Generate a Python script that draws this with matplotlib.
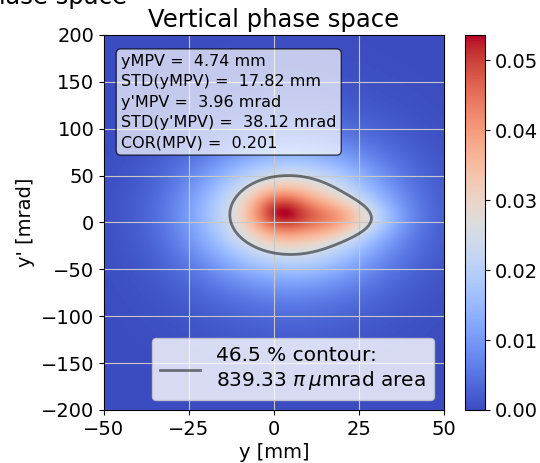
import numpy as np
import matplotlib
matplotlib.use('Agg')
import matplotlib.pyplot as plt
from matplotlib.lines import Line2D

# gaussian components of the fitted beam density
amp = [0.014, 0.028, 0.011, 0.010]
y_c = [1.5, 5.0, 20.0, 5.0]      # mm
yp_c = [11.5, 8.0, 4.0, 5.0]     # mrad
y_sig = [6.0, 18.0, 10.0, 22.0]
yp_sig = [16.0, 40.0, 14.0, 70.0]

stat_names = ["yMPV", "STD(yMPV)", "y'MPV", "STD(y'MPV)", "COR(MPV)"]
stat_vals = [4.74, 17.82, 3.96, 38.12, 0.201]
stat_fmt = [" .2f", " .2f", " .2f", " .2f", " .3f"]
stat_units = [" mm", " mm", " mrad", " mrad", ""]

contour_frac = 0.465
contour_area = 839.33

y = np.linspace(-50, 50, 401)
yp = np.linspace(-200, 200, 801)
Y, YP = np.meshgrid(y, yp)
dens = np.zeros_like(Y)
for a, y0, yp0, sy, syp in zip(amp, y_c, yp_c, y_sig, yp_sig):
	dens += a * np.exp(-0.5*((Y - y0)/sy)**2 - 0.5*((YP - yp0)/syp)**2)

fig = plt.figure(figsize=(5.4, 4.63), dpi=100)
ax = fig.add_axes([0.1926, 0.1145, 0.6296, 0.81])
cax = fig.add_axes([0.8611, 0.1145, 0.037, 0.81])

im = ax.imshow(dens, origin='lower', extent=[-50, 50, -200, 200], aspect='auto',
			   cmap='coolwarm', vmin=0, vmax=dens.max())
ax.contour(y, yp, dens, levels=[contour_frac*dens.max()], colors='k',
		   alpha=0.5, linewidths=2)
ax.grid(True, color='#c8c8c8')

ax.set_xlim(-50, 50)
ax.set_ylim(-200, 200)
ax.set_xticks([-50, -25, 0, 25, 50])
ax.set_yticks(np.arange(-200, 201, 50))
ax.tick_params(labelsize=14)
ax.set_xlabel('y [mm]', fontsize=14, labelpad=3)
ax.set_ylabel("y' [mrad]", fontsize=14)
ax.set_title('Vertical phase space', fontsize=17.5)

lines = [f"{n} = {format(v, f)}{u}" for n, v, f, u in zip(stat_names, stat_vals, stat_fmt, stat_units)]
ax.text(0.05, 0.95, "\n".join(lines), transform=ax.transAxes, fontsize=11.5,
		va='top', ha='left', linespacing=1.45,
		bbox=dict(boxstyle='round', facecolor='white', alpha=0.7))

handle = Line2D([], [], color='k', alpha=0.5, lw=2)
ax.legend([handle], [f"{contour_frac*100:.1f} % contour:\n{contour_area:.2f} $\\pi\\,\\mu$mrad area"],
		  loc='lower right', fontsize=14.5)

cb = fig.colorbar(im, cax=cax)
cb.set_ticks([0, 0.01, 0.02, 0.03, 0.04, 0.05])
cb.ax.yaxis.set_major_formatter(matplotlib.ticker.FormatStrFormatter('%.2f'))
cb.ax.tick_params(labelsize=14)

# title of the neighbouring horizontal panel, cut at the top edge
fig.text(127/540, 1 - 4/463, 'Horizontal phase space', ha='right', va='baseline', fontsize=17.5)

fig.savefig('out.png', dpi=100)
